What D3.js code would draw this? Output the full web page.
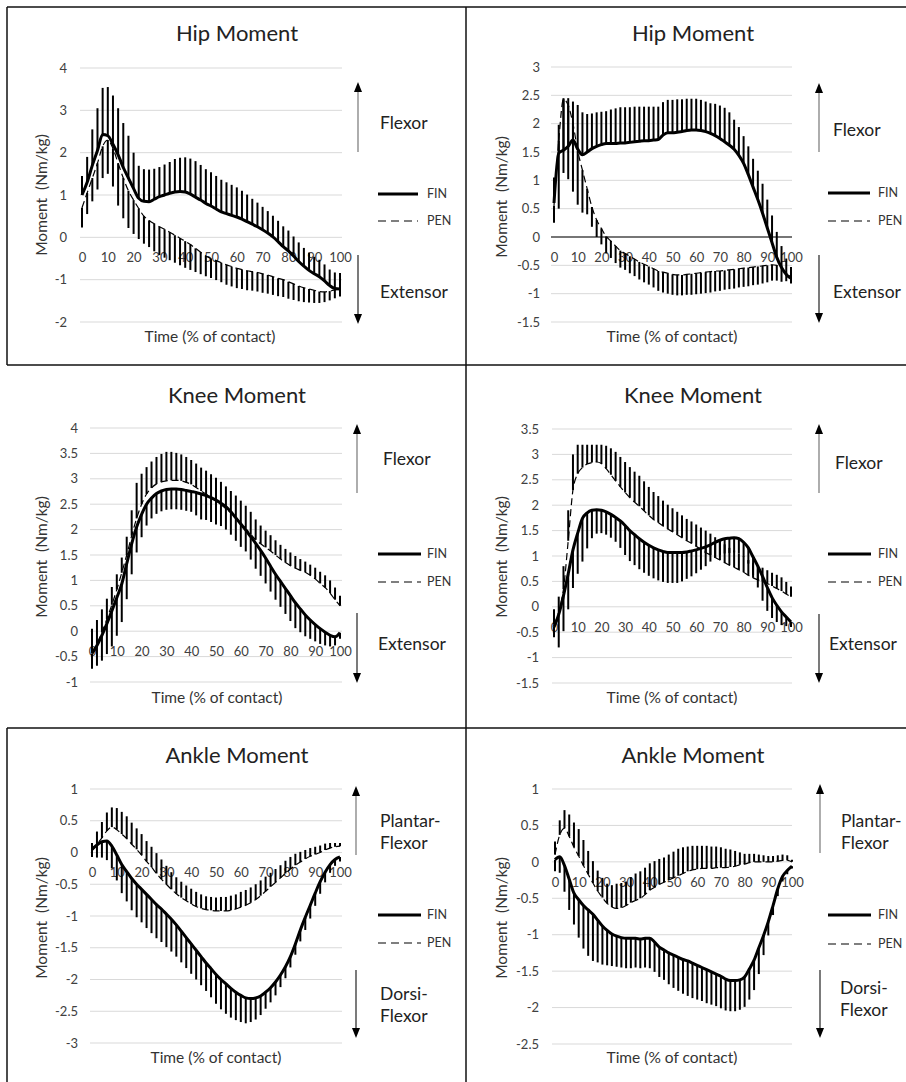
<!DOCTYPE html>
<html>
<head>
<meta charset="utf-8">
<script src="https://cdn.jsdelivr.net/npm/d3@7"></script>
<style>
body { margin: 0; background: #fff; }
svg { display: block; font-family: Lato, "Open Sans", sans-serif; }
</style>
</head>
<body>
<div id="chart"></div>
<script>
var WIDTH = 906;
var HEIGHT = 1082;

// time points, % of contact (every 2 %)
var time = d3.range(0, 101, 2);
var xTicks = [0, 10, 20, 30, 40, 50, 60, 70, 80, 90, 100];

// ---- hip, left ----
var hipLTicks = [-2, -1, 0, 1, 2, 3, 4];
var hipLFin = [1.0, 1.3, 1.7, 2.05, 2.43, 2.4, 2.2, 1.95, 1.65, 1.4,
  1.15, 0.92, 0.85, 0.84, 0.9, 0.96, 1.0, 1.04, 1.07, 1.08,
  1.07, 1.02, 0.95, 0.88, 0.8, 0.74, 0.67, 0.6, 0.56, 0.52,
  0.48, 0.43, 0.37, 0.31, 0.25, 0.18, 0.1, 0.01, -0.1, -0.22,
  -0.32, -0.44, -0.57, -0.68, -0.78, -0.86, -0.93, -1.03, -1.14, -1.21,
  -1.22];
var hipLFinSd = [0.45, 0.6, 0.85, 1.0, 1.1, 1.15, 1.15, 1.1, 1.05, 1.0,
  0.85, 0.77, 0.76, 0.76, 0.72, 0.7, 0.72, 0.74, 0.78, 0.8,
  0.82, 0.84, 0.85, 0.83, 0.81, 0.8, 0.78, 0.76, 0.74, 0.72,
  0.7, 0.67, 0.64, 0.6, 0.57, 0.54, 0.52, 0.5, 0.49, 0.48,
  0.48, 0.46, 0.45, 0.43, 0.42, 0.4, 0.4, 0.39, 0.38, 0.38,
  0.38];
var hipLPen = [0.7, 1.05, 1.4, 1.75, 2.15, 2.3, 2.1, 1.75, 1.4, 1.1,
  0.88, 0.68, 0.5, 0.4, 0.32, 0.25, 0.19, 0.12, 0.05, -0.02,
  -0.09, -0.17, -0.26, -0.35, -0.44, -0.5, -0.55, -0.6, -0.65, -0.69,
  -0.73, -0.76, -0.79, -0.81, -0.83, -0.86, -0.89, -0.93, -0.97, -1.0,
  -1.05, -1.1, -1.15, -1.19, -1.22, -1.25, -1.28, -1.29, -1.27, -1.24,
  -1.22];
var hipLPenSd = [0.47, 0.5, 0.55, 0.62, 0.75, 0.8, 0.9, 1.0, 0.95, 0.88,
  0.8, 0.72, 0.65, 0.63, 0.65, 0.67, 0.67, 0.66, 0.65, 0.64,
  0.63, 0.6, 0.56, 0.52, 0.48, 0.46, 0.46, 0.46, 0.47, 0.47,
  0.47, 0.46, 0.46, 0.45, 0.45, 0.45, 0.44, 0.43, 0.42, 0.41,
  0.4, 0.38, 0.36, 0.34, 0.32, 0.3, 0.27, 0.24, 0.22, 0.2,
  0.18];

// ---- hip, right ----
var hipRTicks = [-1.5, -1, -0.5, 0, 0.5, 1, 1.5, 2, 2.5, 3];
var hipRFin = [0.6, 1.48, 1.53, 1.6, 1.71, 1.55, 1.45, 1.5, 1.56, 1.6,
  1.63, 1.65, 1.65, 1.65, 1.66, 1.66, 1.67, 1.68, 1.69, 1.7,
  1.7, 1.71, 1.72, 1.8, 1.84, 1.84, 1.85, 1.86, 1.88, 1.89,
  1.89, 1.88, 1.86, 1.83, 1.79, 1.74, 1.68, 1.62, 1.55, 1.44,
  1.3, 1.1, 0.88, 0.66, 0.42, 0.16, -0.1, -0.36, -0.54, -0.66,
  -0.73];
var hipRFinSd = [0.45, 0.5, 0.92, 0.85, 0.68, 0.78, 0.75, 0.67, 0.62, 0.6,
  0.58, 0.57, 0.6, 0.62, 0.63, 0.63, 0.62, 0.62, 0.61, 0.6,
  0.6, 0.59, 0.58, 0.58, 0.58, 0.58, 0.58, 0.57, 0.56, 0.55,
  0.55, 0.54, 0.53, 0.53, 0.56, 0.58, 0.6, 0.58, 0.52, 0.5,
  0.48, 0.5, 0.5, 0.51, 0.52, 0.5, 0.48, 0.45, 0.38, 0.28,
  0.2];
var hipRPen = [0.55, 1.7, 2.43, 2.32, 2.0, 1.52, 1.18, 0.85, 0.53, 0.3,
  0.15, 0.01, -0.07, -0.16, -0.24, -0.29, -0.34, -0.39, -0.44, -0.48,
  -0.52, -0.56, -0.6, -0.62, -0.64, -0.66, -0.67, -0.67, -0.66, -0.65,
  -0.64, -0.63, -0.62, -0.61, -0.6, -0.6, -0.59, -0.58, -0.57, -0.56,
  -0.55, -0.54, -0.53, -0.52, -0.51, -0.5, -0.49, -0.5, -0.55, -0.63,
  -0.72];
var hipRPenSd = [0.3, 1.2, 1.3, 1.3, 1.2, 0.95, 0.75, 0.45, 0.35, 0.3,
  0.28, 0.3, 0.3, 0.3, 0.3, 0.29, 0.3, 0.3, 0.31, 0.32,
  0.32, 0.33, 0.35, 0.36, 0.36, 0.36, 0.36, 0.36, 0.36, 0.37,
  0.37, 0.37, 0.37, 0.37, 0.36, 0.35, 0.34, 0.34, 0.34, 0.33,
  0.33, 0.33, 0.32, 0.32, 0.31, 0.3, 0.28, 0.27, 0.24, 0.15,
  0.1];

// ---- knee, left ----
var kneeLTicks = [-1, -0.5, 0, 0.5, 1, 1.5, 2, 2.5, 3, 3.5, 4];
var kneeLFin = [-0.44, -0.28, -0.08, 0.15, 0.4, 0.66, 0.93, 1.33, 1.72, 2.05,
  2.3, 2.5, 2.62, 2.71, 2.76, 2.79, 2.8, 2.8, 2.79, 2.77,
  2.75, 2.73, 2.7, 2.67, 2.63, 2.58, 2.52, 2.45, 2.35, 2.23,
  2.11, 1.99, 1.86, 1.73, 1.59, 1.44, 1.28, 1.12, 0.98, 0.84,
  0.7, 0.56, 0.44, 0.32, 0.22, 0.13, 0.05, -0.02, -0.08, -0.11,
  -0.03];
var kneeLFinSd = [0.3, 0.4, 0.5, 0.6, 0.7, 0.75, 0.75, 0.7, 0.6, 0.5,
  0.45, 0.42, 0.4, 0.4, 0.4, 0.4, 0.4, 0.4, 0.4, 0.4,
  0.4, 0.45, 0.5, 0.48, 0.48, 0.48, 0.45, 0.45, 0.45, 0.45,
  0.45, 0.42, 0.45, 0.5, 0.5, 0.5, 0.5, 0.5, 0.5, 0.5,
  0.5, 0.5, 0.46, 0.42, 0.37, 0.33, 0.3, 0.26, 0.22, 0.17,
  0.12];
var kneeLPen = [-0.42, -0.25, -0.02, 0.24, 0.52, 0.82, 1.15, 1.5, 1.88, 2.22,
  2.5, 2.7, 2.82, 2.9, 2.94, 2.96, 2.97, 2.97, 2.96, 2.93,
  2.89, 2.83, 2.76, 2.7, 2.63, 2.56, 2.49, 2.41, 2.33, 2.24,
  2.13, 2.02, 1.91, 1.8, 1.72, 1.65, 1.58, 1.5, 1.42, 1.35,
  1.29, 1.24, 1.2, 1.16, 1.1, 1.03, 0.94, 0.86, 0.75, 0.62,
  0.5];
var kneeLPenSd = [0.47, 0.47, 0.45, 0.4, 0.35, 0.3, 0.3, 0.36, 0.5, 0.7,
  0.6, 0.53, 0.52, 0.53, 0.55, 0.57, 0.56, 0.54, 0.52, 0.5,
  0.48, 0.47, 0.46, 0.46, 0.46, 0.46, 0.45, 0.44, 0.43, 0.43,
  0.44, 0.45, 0.44, 0.4, 0.36, 0.33, 0.31, 0.29, 0.28, 0.27,
  0.26, 0.24, 0.22, 0.21, 0.21, 0.22, 0.23, 0.24, 0.25, 0.24,
  0.2];

// ---- knee, right ----
var kneeRTicks = [-1.5, -1, -0.5, 0, 0.5, 1, 1.5, 2, 2.5, 3, 3.5];
var kneeRFin = [-0.4, -0.15, 0.22, 0.65, 1.12, 1.45, 1.74, 1.85, 1.9, 1.91,
  1.9, 1.87, 1.82, 1.76, 1.69, 1.6, 1.5, 1.42, 1.34, 1.27,
  1.21, 1.16, 1.12, 1.09, 1.07, 1.07, 1.07, 1.07, 1.08, 1.1,
  1.12, 1.15, 1.18, 1.22, 1.27, 1.31, 1.34, 1.35, 1.36, 1.34,
  1.27, 1.16, 0.98, 0.8, 0.6, 0.38, 0.18, 0.03, -0.1, -0.2,
  -0.3];
var kneeRFinSd = [0.2, 0.65, 0.7, 0.7, 0.75, 0.8, 0.85, 0.7, 0.55, 0.47,
  0.45, 0.45, 0.46, 0.48, 0.53, 0.58, 0.6, 0.6, 0.6, 0.6,
  0.6, 0.6, 0.6, 0.6, 0.6, 0.6, 0.6, 0.57, 0.53, 0.5,
  0.46, 0.42, 0.38, 0.33, 0.3, 0.29, 0.29, 0.29, 0.29, 0.29,
  0.29, 0.31, 0.36, 0.42, 0.48, 0.46, 0.4, 0.33, 0.26, 0.18,
  0.1];
var kneeRPen = [-0.35, -0.1, 0.35, 1.3, 2.3, 2.62, 2.74, 2.81, 2.84, 2.85,
  2.82, 2.72, 2.6, 2.48, 2.36, 2.25, 2.15, 2.06, 1.98, 1.89,
  1.8, 1.72, 1.66, 1.59, 1.53, 1.48, 1.42, 1.36, 1.3, 1.25,
  1.19, 1.13, 1.07, 1.02, 0.97, 0.92, 0.87, 0.82, 0.78, 0.73,
  0.68, 0.62, 0.57, 0.53, 0.5, 0.46, 0.41, 0.36, 0.31, 0.25,
  0.2];
var kneeRPenSd = [0.3, 0.3, 0.45, 0.6, 0.7, 0.57, 0.45, 0.38, 0.35, 0.34,
  0.37, 0.45, 0.52, 0.57, 0.59, 0.6, 0.6, 0.6, 0.6, 0.58,
  0.56, 0.54, 0.52, 0.5, 0.48, 0.46, 0.45, 0.44, 0.43, 0.43,
  0.43, 0.43, 0.43, 0.42, 0.4, 0.38, 0.36, 0.34, 0.33, 0.32,
  0.31, 0.3, 0.29, 0.28, 0.27, 0.26, 0.26, 0.27, 0.27, 0.24,
  0.2];

// ---- ankle, left ----
var ankleLTicks = [-3, -2.5, -2, -1.5, -1, -0.5, 0, 0.5, 1];
var ankleLFin = [0.05, 0.12, 0.17, 0.18, 0.1, -0.04, -0.19, -0.3, -0.41, -0.5,
  -0.58, -0.66, -0.74, -0.82, -0.89, -0.97, -1.05, -1.14, -1.24, -1.34,
  -1.44, -1.54, -1.64, -1.74, -1.83, -1.92, -2.0, -2.07, -2.14, -2.2,
  -2.25, -2.29, -2.3, -2.29, -2.26, -2.2, -2.13, -2.04, -1.93, -1.8,
  -1.64, -1.44, -1.22, -1.02, -0.83, -0.64, -0.46, -0.31, -0.19, -0.11,
  -0.07];
var ankleLFinSd = [0.12, 0.2, 0.25, 0.3, 0.35, 0.4, 0.45, 0.47, 0.5, 0.52,
  0.52, 0.53, 0.53, 0.53, 0.52, 0.52, 0.51, 0.5, 0.49, 0.48,
  0.47, 0.46, 0.45, 0.44, 0.45, 0.46, 0.47, 0.47, 0.46, 0.44,
  0.42, 0.4, 0.37, 0.34, 0.3, 0.26, 0.23, 0.21, 0.19, 0.18,
  0.17, 0.17, 0.18, 0.2, 0.21, 0.2, 0.19, 0.16, 0.13, 0.1,
  0.07];
var ankleLPen = [0.03, 0.13, 0.23, 0.34, 0.4, 0.36, 0.29, 0.22, 0.13, 0.05,
  -0.04, -0.14, -0.23, -0.33, -0.42, -0.5, -0.58, -0.65, -0.71, -0.76,
  -0.81, -0.85, -0.88, -0.9, -0.91, -0.92, -0.92, -0.92, -0.91, -0.89,
  -0.86, -0.83, -0.79, -0.74, -0.68, -0.61, -0.54, -0.47, -0.4, -0.33,
  -0.26, -0.2, -0.15, -0.1, -0.06, -0.03, 0.0, 0.04, 0.07, 0.09,
  0.1];
var ankleLPenSd = [0.12, 0.2, 0.25, 0.29, 0.31, 0.34, 0.35, 0.35, 0.34, 0.33,
  0.33, 0.32, 0.32, 0.32, 0.31, 0.29, 0.27, 0.26, 0.25, 0.24,
  0.24, 0.23, 0.22, 0.21, 0.21, 0.21, 0.22, 0.22, 0.23, 0.23,
  0.24, 0.24, 0.24, 0.24, 0.24, 0.23, 0.22, 0.21, 0.2, 0.2,
  0.19, 0.18, 0.16, 0.14, 0.13, 0.12, 0.11, 0.1, 0.08, 0.06,
  0.05];

// ---- ankle, right ----
var ankleRTicks = [-2.5, -2, -1.5, -1, -0.5, 0, 0.5, 1];
var ankleRFin = [0.03, 0.07, -0.05, -0.24, -0.43, -0.52, -0.6, -0.66, -0.72, -0.8,
  -0.88, -0.94, -0.99, -1.02, -1.04, -1.05, -1.05, -1.05, -1.06, -1.05,
  -1.05, -1.1, -1.17, -1.21, -1.25, -1.28, -1.31, -1.34, -1.36, -1.39,
  -1.42, -1.45, -1.48, -1.51, -1.54, -1.57, -1.61, -1.63, -1.63, -1.62,
  -1.58, -1.47, -1.35, -1.18, -1.01, -0.82, -0.6, -0.37, -0.2, -0.12,
  -0.06];
var ankleRFinSd = [0.16, 0.22, 0.36, 0.42, 0.43, 0.52, 0.59, 0.63, 0.64, 0.58,
  0.53, 0.48, 0.44, 0.42, 0.41, 0.41, 0.41, 0.4, 0.4, 0.4,
  0.41, 0.41, 0.41, 0.41, 0.43, 0.45, 0.46, 0.47, 0.48, 0.48,
  0.47, 0.46, 0.46, 0.45, 0.44, 0.44, 0.43, 0.42, 0.42, 0.41,
  0.41, 0.42, 0.41, 0.36, 0.27, 0.19, 0.13, 0.1, 0.07, 0.05,
  0.03];
var ankleRPen = [0.1, 0.37, 0.46, 0.35, 0.2, 0.08, -0.05, -0.17, -0.29, -0.4,
  -0.49, -0.57, -0.62, -0.64, -0.63, -0.6, -0.56, -0.53, -0.5, -0.45,
  -0.39, -0.35, -0.31, -0.28, -0.25, -0.22, -0.19, -0.16, -0.13, -0.11,
  -0.1, -0.09, -0.09, -0.09, -0.08, -0.08, -0.08, -0.07, -0.06, -0.04,
  -0.03, -0.01, 0.0, 0.0, 0.0, 0.0, 0.0, 0.01, 0.02, 0.02,
  0.0];
var ankleRPenSd = [0.18, 0.2, 0.25, 0.3, 0.34, 0.37, 0.35, 0.32, 0.3, 0.28,
  0.27, 0.27, 0.3, 0.34, 0.34, 0.33, 0.35, 0.37, 0.37, 0.37,
  0.37, 0.36, 0.35, 0.34, 0.35, 0.36, 0.37, 0.36, 0.34, 0.33,
  0.32, 0.31, 0.31, 0.3, 0.29, 0.28, 0.26, 0.24, 0.21, 0.17,
  0.14, 0.12, 0.11, 0.1, 0.09, 0.08, 0.08, 0.08, 0.08, 0.07,
  0.03];

// what each panel shows; finDir/penDir = side the SD bars are drawn on
var panels = [
  { title: "Hip Moment", ticks: hipLTicks, fin: hipLFin, finSd: hipLFinSd, pen: hipLPen, penSd: hipLPenSd,
    finDir: 1, penDir: -1, up: ["Flexor"], down: ["Extensor"], zeroAxis: false },
  { title: "Hip Moment", ticks: hipRTicks, fin: hipRFin, finSd: hipRFinSd, pen: hipRPen, penSd: hipRPenSd,
    finDir: 1, penDir: -1, up: ["Flexor"], down: ["Extensor"], zeroAxis: true },
  { title: "Knee Moment", ticks: kneeLTicks, fin: kneeLFin, finSd: kneeLFinSd, pen: kneeLPen, penSd: kneeLPenSd,
    finDir: -1, penDir: 1, up: ["Flexor"], down: ["Extensor"], zeroAxis: false },
  { title: "Knee Moment", ticks: kneeRTicks, fin: kneeRFin, finSd: kneeRFinSd, pen: kneeRPen, penSd: kneeRPenSd,
    finDir: -1, penDir: 1, up: ["Flexor"], down: ["Extensor"], zeroAxis: false },
  { title: "Ankle Moment", ticks: ankleLTicks, fin: ankleLFin, finSd: ankleLFinSd, pen: ankleLPen, penSd: ankleLPenSd,
    finDir: -1, penDir: 1, up: ["Plantar-", "Flexor"], down: ["Dorsi-", "Flexor"], zeroAxis: false },
  { title: "Ankle Moment", ticks: ankleRTicks, fin: ankleRFin, finSd: ankleRFinSd, pen: ankleRPen, penSd: ankleRPenSd,
    finDir: -1, penDir: 1, up: ["Plantar-", "Flexor"], down: ["Dorsi-", "Flexor"], zeroAxis: false }
];

// pixel layout of each panel
var layout = [
  { x: [82, 340], y: [322, 68], grid: [80, 342], yLab: 67, title: [237, 33], yTitle: [42, 195], xTitle: [210, 337],
    arrowX: 358, up: [152, 82], down: [255, 324], upText: [380, 123], downText: [380, 292], leg: [378, 418, 427], legY: [194, 221] },
  { x: [554, 791], y: [322, 67], grid: [551, 792], yLab: 540, title: [693, 33], yTitle: [502, 197], xTitle: [672, 337],
    arrowX: 819, up: [152, 83], down: [255, 323], upText: [833, 130], downText: [833, 292], leg: [828, 870, 878], legY: [193, 221] },
  { x: [92, 340], y: [682, 428], grid: [90, 342], yLab: 78, title: [237, 395], yTitle: [42, 557], xTitle: [217, 698],
    arrowX: 357, up: [493, 424], down: [613, 683], upText: [383, 459], downText: [378, 644], leg: [378, 421, 427], legY: [554, 582] },
  { x: [554, 791], y: [683, 429], grid: [552, 792], yLab: 539, title: [693, 395], yTitle: [502, 557], xTitle: [672, 698],
    arrowX: 819, up: [493, 424], down: [614, 683], upText: [835, 463], downText: [829, 644], leg: [828, 871, 878], legY: [554, 582] },
  { x: [92, 340], y: [1043, 789], grid: [90, 342], yLab: 78, title: [237, 755], yTitle: [42, 918], xTitle: [216, 1058],
    arrowX: 356, up: [855, 786], down: [970, 1038], upText: [380, 821], downText: [380, 994], leg: [378, 421, 427], legY: [915, 943] },
  { x: [555, 792], y: [1044, 789], grid: [552, 792], yLab: 539, title: [693, 755], yTitle: [502, 918], xTitle: [672, 1058],
    arrowX: 820, up: [853, 784], down: [970, 1038], upText: [841, 821], downText: [840, 988], leg: [828, 871, 878], legY: [915, 944] }
];

var svg = d3.select("#chart").append("svg").attr("width", WIDTH).attr("height", HEIGHT);

// table borders round the six pictures
var borders = [
  [7, 7, 906, 7], [7, 365, 906, 365], [7, 728, 906, 728],
  [7, 7, 7, 365], [7, 728, 7, 1082], [466, 7, 466, 1082]
];
svg.append("g").selectAll("line").data(borders).enter().append("line")
  .attr("x1", function(d) { return d[0]; }).attr("y1", function(d) { return d[1]; })
  .attr("x2", function(d) { return d[2]; }).attr("y2", function(d) { return d[3]; })
  .attr("stroke", "#111").attr("stroke-width", 1.5);

var fmt = function(v) { return String(Math.round(v * 10) / 10); };

panels.forEach(function(p, k) { drawPanel(p, layout[k]); });

function drawPanel(p, L) {
  var g = svg.append("g");
  var x = d3.scaleLinear().domain([0, 100]).range(L.x);
  var y = d3.scaleLinear().domain(d3.extent(p.ticks)).range(L.y);

  // gridlines
  g.append("g").selectAll("line").data(p.ticks).enter().append("line")
    .attr("x1", L.grid[0]).attr("x2", L.grid[1])
    .attr("y1", function(d) { return y(d); }).attr("y2", function(d) { return y(d); })
    .attr("stroke", "#d9d9d9").attr("stroke-width", 1);

  // value axis labels
  var ya = g.append("g").attr("transform", "translate(" + L.yLab + ",0)")
    .call(d3.axisLeft(y).tickValues(p.ticks).tickSize(0).tickPadding(0).tickFormat(fmt));
  ya.select(".domain").remove();
  ya.attr("font-family", null).attr("font-size", null);
  ya.selectAll("text").attr("fill", "#404040").style("font-size", "13px");

  // time axis labels sit at the zero line
  var xa = g.append("g").attr("transform", "translate(0," + (y(0) + 15.5) + ")")
    .call(d3.axisBottom(x).tickValues(xTicks).tickSize(0).tickPadding(0));
  xa.select(".domain").remove();
  xa.attr("font-family", null).attr("font-size", null);
  xa.selectAll("text").attr("fill", "#404040").style("font-size", "13px");

  if (p.zeroAxis) {
    g.append("line").attr("x1", L.grid[0]).attr("x2", L.grid[1])
      .attr("y1", y(0)).attr("y2", y(0)).attr("stroke", "#000").attr("stroke-width", 1);
  }

  // SD bars
  var series = [[p.fin, p.finSd, p.finDir], [p.pen, p.penSd, p.penDir]];
  series.forEach(function(s) {
    g.append("g").selectAll("line").data(time).enter().append("line")
      .attr("x1", function(d) { return x(d); }).attr("x2", function(d) { return x(d); })
      .attr("y1", function(d, i) { return y(s[0][i]); })
      .attr("y2", function(d, i) { return y(s[0][i] + s[2] * s[1][i]); })
      .attr("stroke", "#000").attr("stroke-width", 2);
  });

  var line = d3.line()
    .x(function(d, i) { return x(time[i]); })
    .y(function(d) { return y(d); })
    .curve(d3.curveMonotoneX);

  g.append("path").datum(p.pen).attr("d", line)
    .attr("fill", "none").attr("stroke", "#000").attr("stroke-width", 1.2).attr("stroke-dasharray", "7,4");
  g.append("path").datum(p.fin).attr("d", line)
    .attr("fill", "none").attr("stroke", "#000").attr("stroke-width", 3);

  // titles
  g.append("text").attr("x", L.title[0]).attr("y", L.title[1]).attr("dy", "0.35em")
    .attr("text-anchor", "middle").attr("fill", "#222").style("font-size", "22px").text(p.title);
  g.append("text").attr("transform", "translate(" + L.yTitle[0] + "," + L.yTitle[1] + ") rotate(-90)")
    .attr("dy", "0.35em").attr("text-anchor", "middle").attr("fill", "#333").style("font-size", "15.5px")
    .style("white-space", "pre").text("Moment  (Nm/kg)");
  g.append("text").attr("x", L.xTitle[0]).attr("y", L.xTitle[1]).attr("dy", "0.35em")
    .attr("text-anchor", "middle").attr("fill", "#333").style("font-size", "15.5px").text("Time (% of contact)");

  // direction arrows
  g.append("line").attr("x1", L.arrowX).attr("x2", L.arrowX).attr("y1", L.up[0]).attr("y2", L.up[1] + 9)
    .attr("stroke", "#777").attr("stroke-width", 1.2);
  g.append("path").attr("d", "M" + (L.arrowX - 4) + "," + (L.up[1] + 10) + "L" + L.arrowX + "," + L.up[1] + "L" + (L.arrowX + 4) + "," + (L.up[1] + 10) + "Z")
    .attr("fill", "#000");
  g.append("line").attr("x1", L.arrowX).attr("x2", L.arrowX).attr("y1", L.down[0]).attr("y2", L.down[1] - 9)
    .attr("stroke", "#222").attr("stroke-width", 1.2);
  g.append("path").attr("d", "M" + (L.arrowX - 4) + "," + (L.down[1] - 10) + "L" + L.arrowX + "," + L.down[1] + "L" + (L.arrowX + 4) + "," + (L.down[1] - 10) + "Z")
    .attr("fill", "#000");

  [[p.up, L.upText], [p.down, L.downText]].forEach(function(t) {
    t[0].forEach(function(s, j) {
      g.append("text").attr("x", t[1][0]).attr("y", t[1][1] + j * 21.5).attr("dy", "0.35em")
        .attr("fill", "#222").style("font-size", "17.5px").text(s);
    });
  });

  // legend
  g.append("line").attr("x1", L.leg[0]).attr("x2", L.leg[1]).attr("y1", L.legY[0]).attr("y2", L.legY[0])
    .attr("stroke", "#000").attr("stroke-width", 3);
  g.append("line").attr("x1", L.leg[0]).attr("x2", L.leg[1]).attr("y1", L.legY[1]).attr("y2", L.legY[1])
    .attr("stroke", "#000").attr("stroke-width", 1.2).attr("stroke-dasharray", "8,5");
  g.append("text").attr("x", L.leg[2]).attr("y", L.legY[0]).attr("dy", "0.35em")
    .attr("fill", "#333").style("font-size", "12.5px").text("FIN");
  g.append("text").attr("x", L.leg[2]).attr("y", L.legY[1]).attr("dy", "0.35em")
    .attr("fill", "#333").style("font-size", "12.5px").text("PEN");
}
</script>
</body>
</html>
